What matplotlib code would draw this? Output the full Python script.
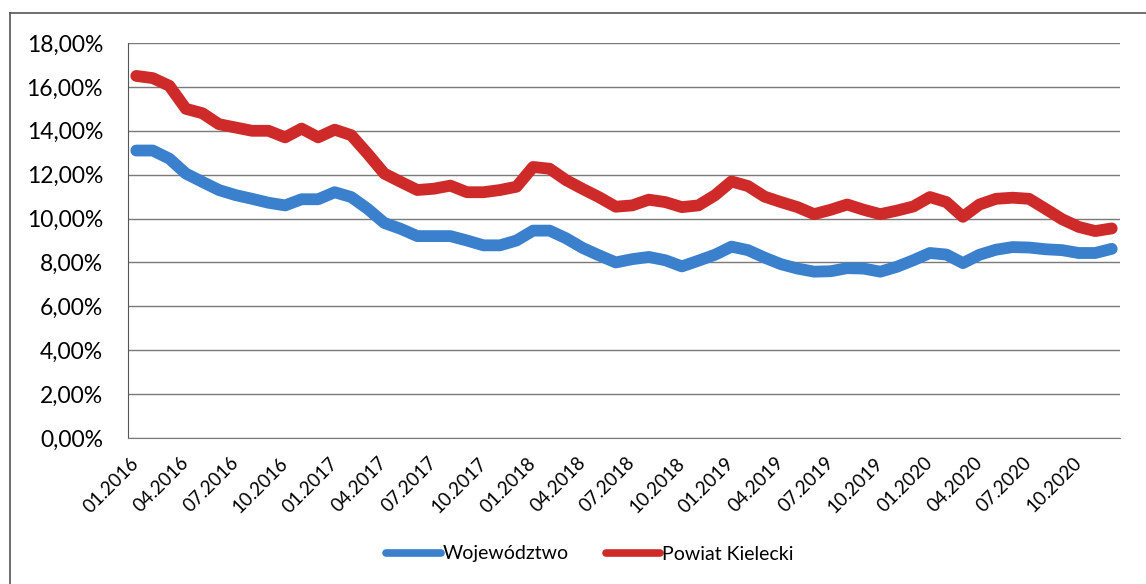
import matplotlib
matplotlib.use("Agg")
import matplotlib.pyplot as plt
from matplotlib.lines import Line2D

plt.rcParams['font.family'] = ['Lato', 'DejaVu Sans']

# dane: stopa bezrobocia, miesiecznie 01.2016 - 12.2020
years = [2016, 2017, 2018, 2019, 2020]
months = [f"{m:02d}.{y}" for y in years for m in range(1, 13)]

wojewodztwo = [13.1, 13.1, 12.73, 12.05, 11.67, 11.3, 11.07, 10.9, 10.72, 10.6, 10.88, 10.88,
               11.2, 10.98, 10.44, 9.8, 9.53, 9.2, 9.2, 9.2, 9.0, 8.78, 8.78, 9.0,
               9.45, 9.45, 9.1, 8.66, 8.32, 8.0, 8.15, 8.25, 8.1, 7.82, 8.08, 8.35,
               8.72, 8.56, 8.22, 7.92, 7.72, 7.58, 7.6, 7.74, 7.72, 7.58, 7.8, 8.1,
               8.43, 8.36, 7.97, 8.35, 8.58, 8.7, 8.68, 8.6, 8.56, 8.43, 8.43, 8.62]

powiat = [16.5, 16.4, 16.05, 15.0, 14.8, 14.3, 14.15, 14.0, 14.0, 13.7, 14.1, 13.7,
          14.05, 13.8, 12.95, 12.05, 11.67, 11.3, 11.36, 11.5, 11.2, 11.2, 11.3, 11.45,
          12.35, 12.27, 11.75, 11.35, 10.97, 10.54, 10.6, 10.86, 10.75, 10.52, 10.6, 11.06,
          11.69, 11.48, 11.0, 10.75, 10.52, 10.2, 10.4, 10.64, 10.4, 10.2, 10.36, 10.55,
          10.98, 10.75, 10.08, 10.64, 10.9, 10.95, 10.9, 10.44, 9.97, 9.62, 9.43, 9.55]

labels = ["Województwo", "Powiat Kielecki"]
colors = ["#3A80CC", "#CE2A2A"]

W, H = 1146, 584
fig = plt.figure(figsize=(W / 100, H / 100), dpi=100)
ax = fig.add_axes([128 / W, 1 - 438 / H, (1120 - 128) / W, (438 - 43) / H])

x = list(range(len(months)))
for serie, lab, col in zip([wojewodztwo, powiat], labels, colors):
    ax.plot(x, serie, color=col, lw=8.5, solid_capstyle='round',
            solid_joinstyle='round', label=lab)

ax.set_xlim(-0.5, len(months) - 0.5)
ax.set_ylim(0, 18)
ax.set_yticks(range(0, 19, 2))
ax.set_yticklabels([f"{v},00%" for v in range(0, 19, 2)], fontsize=16.5)
ax.set_xticks(x[::3])
ax.set_xticklabels(months[::3], rotation=45, ha='right', va='center',
                   rotation_mode='anchor', fontsize=13.5)
ax.tick_params(axis='x', length=0, pad=16)
ax.tick_params(axis='y', length=0, pad=18)
ax.grid(axis='y', color='#7a7a7a', lw=1.0)
ax.set_axisbelow(True)
for s in ['top', 'right']:
    ax.spines[s].set_visible(False)
ax.spines['left'].set_color('#555555')
ax.spines['bottom'].set_color('#7a7a7a')

leg = fig.legend(loc='center', bbox_to_anchor=(590 / W, 1 - 554 / H), ncol=2,
                 frameon=False, fontsize=14, handlelength=2.8, handletextpad=0.1,
                 columnspacing=1.9)
for h in leg.get_lines():
    h.set_linewidth(5.5)

# ramka wykresu
fig.add_artist(Line2D([10 / W, 10 / W], [0, 1 - 13 / H], transform=fig.transFigure,
                      color='#555555', lw=1.2))
fig.add_artist(Line2D([10 / W, 1], [1 - 13 / H, 1 - 13 / H], transform=fig.transFigure,
                      color='#555555', lw=1.2))

fig.savefig("out.png", dpi=100)
